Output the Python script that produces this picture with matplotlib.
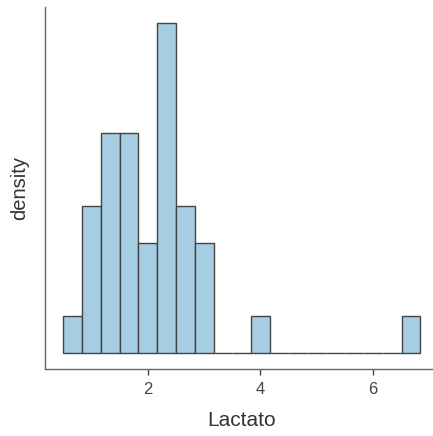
import numpy as np
import matplotlib
matplotlib.use("Agg")
import matplotlib.pyplot as plt

# histogram of lactate: 19 bins, counts per bin
bin_start = 0.502
bin_width = 0.3335
counts = [1, 4, 6, 6, 3, 9, 4, 3, 0, 0, 1, 0, 0, 0, 0, 0, 0, 0, 1]
x_ticks = [2, 4, 6]

edges = bin_start + bin_width * np.arange(len(counts) + 1)
centers = (edges[:-1] + edges[1:]) / 2

plt.rcParams['font.family'] = ['Liberation Sans', 'DejaVu Sans']

fig = plt.figure(figsize=(4.33, 4.36), dpi=100)
ax = fig.add_axes([45.3 / 433, 1 - 369.2 / 436, (438.3 - 45.3) / 433, (369.2 - 6.8) / 436])

ax.hist(centers, bins=edges, weights=counts, density=True,
        facecolor="#a6cee3", edgecolor="#444444", linewidth=1.0)

dens_max = max(counts) / (sum(counts) * bin_width)
span = edges[-1] - edges[0]
ax.set_xlim(edges[0] - 0.05 * span, edges[-1] + 0.05 * span)
ax.set_ylim(-0.05 * dens_max, 1.05 * dens_max)

for side in ("top", "right"):
    ax.spines[side].set_visible(False)
for side in ("left", "bottom"):
    ax.spines[side].set_color("#666666")
    ax.spines[side].set_linewidth(1.0)

ax.set_xticks(x_ticks)
ax.set_xticklabels([str(t) for t in x_ticks])
ax.set_yticks([])
ax.tick_params(axis="x", length=4, width=1.0, color="#444444",
               labelsize=12, labelcolor="#444444", pad=5)

ax.set_xlabel("Lactato", fontsize=15, color="#333333", labelpad=10)
ax.set_ylabel("density", fontsize=14.5, color="#333333", labelpad=12)

fig.savefig("out.png", dpi=100)
